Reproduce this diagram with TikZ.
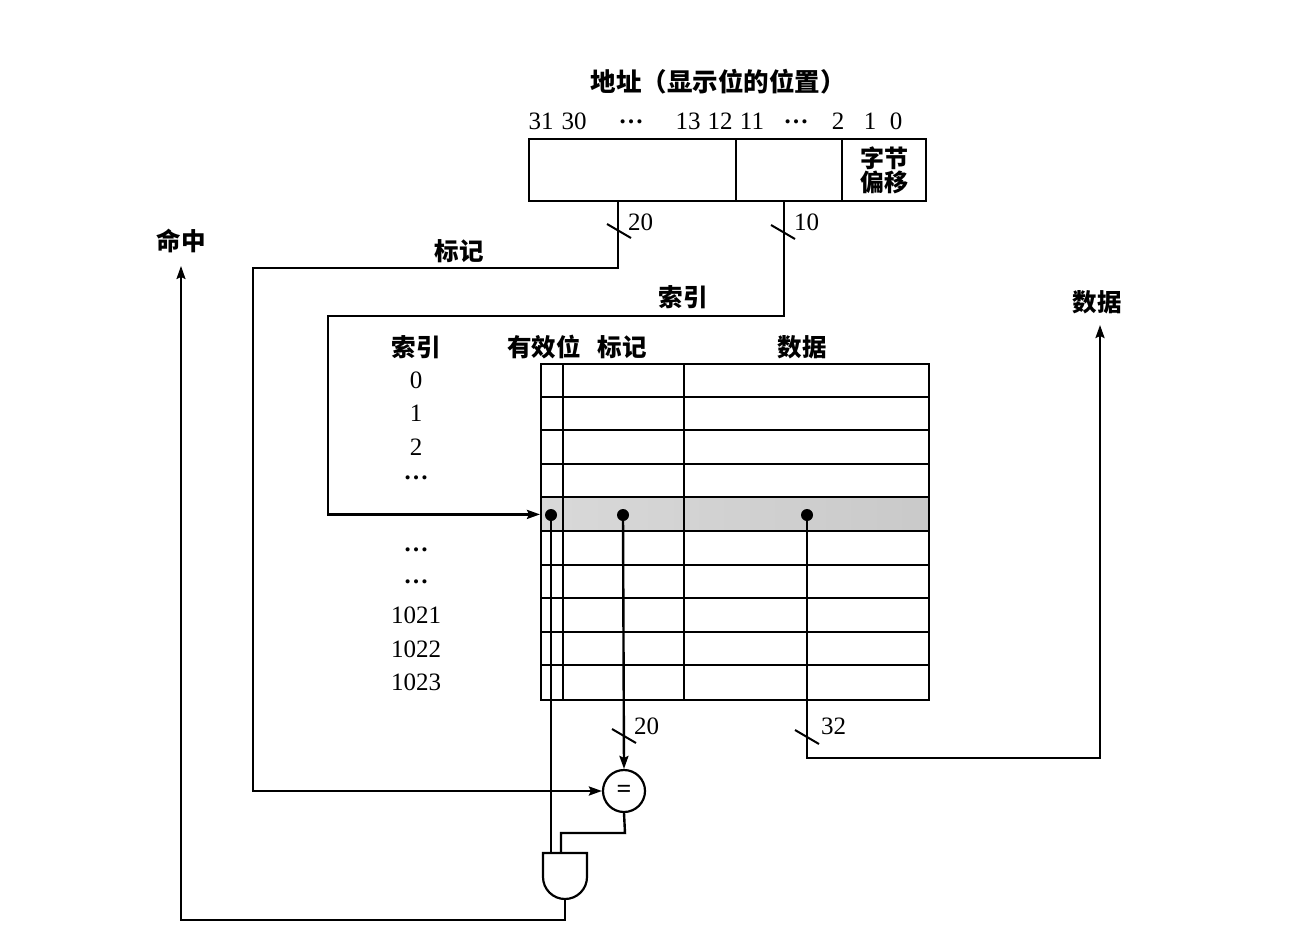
\documentclass[tikz,border=0pt]{standalone}
\usepackage{fontspec}
\setmainfont{Liberation Serif}
\newfontfamily\cjk{Noto Sans CJK SC}
\usetikzlibrary{arrows.meta}
\begin{document}
\begin{tikzpicture}[x=1pt,y=-1pt,
  wire/.style={line width=2.4pt},
  arr/.style={wire,-{Stealth[length=13pt,width=9pt,inset=2pt]}},
  slash/.style={line width=2pt},
  cj/.style={font=\cjk\bfseries\fontsize{24.5}{28}\selectfont, inner sep=0pt},
  num/.style={font=\fontsize{25}{27}\selectfont, inner sep=0pt},
  ell/.style={font=\bfseries\fontsize{25}{27}\selectfont, inner sep=0pt},
  dotn/.style={circle, fill, inner sep=0pt, minimum size=12pt},
  field/.style={draw, line width=2pt, minimum height=62pt, inner sep=0pt, anchor=north west},
  gridl/.style={line width=2pt}]
\useasboundingbox (0,0) rectangle (1316,944);

% ---- address ----
\node[cj, font=\cjk\bfseries\fontsize{25.5}{28}\selectfont] (title) at (718,82) {地址（显示位的位置）};
\foreach \t/\x in {31/541,30/574,13/688,12/720,11/752,2/838,1/870,0/896}
  \node[num] (b\t) at (\x,121) {\t};
\node[ell] (bd1) at (631,124) {\smash{…}};
\node[ell] (bd2) at (796,124) {\smash{…}};
\node[field, minimum width=207pt] (ftag) at (528,138) {};
\node[field, minimum width=106pt] (fidx) at (735,138) {};
\node[field, minimum width=84pt, align=center, font=\cjk\bfseries\fontsize{24}{26}\selectfont] (foff) at (841,138) {字节\\[-2pt]偏移};

\coordinate (tagout) at (618,200);
\coordinate (idxout) at (784,200);

% ---- table ----
\node[inner sep=0pt, minimum width=388pt, minimum height=33.6pt, anchor=north west,
      left color=gray!30, right color=gray!42] (hrow) at (540,497.4) {};
\node[draw, gridl, inner sep=0pt, minimum width=388pt, minimum height=336pt, anchor=north west] (tbl) at (540,363) {};
\foreach \i in {1,...,9}
  \draw[gridl] (540,363+33.6*\i) -- (928,363+33.6*\i);
\draw[gridl] (563,363) -- (563,699);
\draw[gridl] (684,363) -- (684,699);

\node[cj] (hidx) at (416,347) {索引};
\node[cj] (hval) at (544,347) {有效位};
\node[cj] (htag) at (622,347) {标记};
\node[cj] (hdat) at (802,347) {数据};
\foreach \t/\y [count=\k] in {0/380,1/413,2/447,1021/615,1022/649,1023/682}
  \node[num] (ix\k) at (416,\y) {\t};
\foreach \y [count=\k] in {479,551,583}
  \node[ell] (ixd\k) at (416,\y) {\smash{…}};

\node[dotn] (dv) at (551,515) {};
\node[dotn] (dt) at (623,515) {};
\node[dotn] (dd) at (807,515) {};

% ---- comparator and gate ----
\node[draw, circle, line width=2.2pt, minimum size=42pt, inner sep=0pt, font=\bfseries\fontsize{26}{26}\selectfont] (eq) at (624,791) {=};
\draw[line width=2.2pt] (543,853) -- (587,853) -- (587,877) arc (0:180:22) -- cycle;
\coordinate (gin1) at (551,853);
\coordinate (gin2) at (561,853);
\coordinate (gout) at (565,899);

% ---- labels ----
\node[cj] (lhit) at (181,241) {命中};
\node[cj] (ltag) at (459,251) {标记};
\node[cj] (lidx) at (683,297) {索引};
\node[cj] (ldat) at (1097,302) {数据};

% ---- wires ----
\coordinate (tagcorner) at (253,268);
\coordinate (idxcorner) at (328,316);
\draw[arr] (tagout) |- (tagcorner) |- (eq.west);
\draw[arr] (idxout) |- (idxcorner) |- (hrow.west);
\draw[wire] (dv) -- (gin1);
\draw[arr] (dt) -- (eq.north);
\coordinate (datcorner) at (807,758);
\coordinate (datend) at (1100,325);
\draw[arr] (dd) -- (datcorner) -| (datend);
\coordinate (eqbend) at (625,833);
\draw[wire] (eq.south) -- (eqbend) -| (gin2);
\coordinate (hitcorner) at (565,920);
\coordinate (hitend) at (181,266);
\draw[line width=1.8pt, -{Stealth[length=13pt,width=9pt,inset=2pt]}] (gout) -- (hitcorner) -| (hitend);

% ---- bus slashes ----
\draw[slash] (619,231) ++(-12,-7) -- ++(24,14);
\draw[slash] (783,232) ++(-12,-7) -- ++(24,14);
\draw[slash] (624,736) ++(-12,-7) -- ++(24,14);
\draw[slash] (807,737) ++(-12,-7) -- ++(24,14);
\node[num, anchor=west] (n20a) at (628,222) {20};
\node[num, anchor=west] (n10) at (794,222) {10};
\node[num, anchor=west] (n20b) at (634,726) {20};
\node[num, anchor=west] (n32) at (821,726) {32};
\end{tikzpicture}
\end{document}
